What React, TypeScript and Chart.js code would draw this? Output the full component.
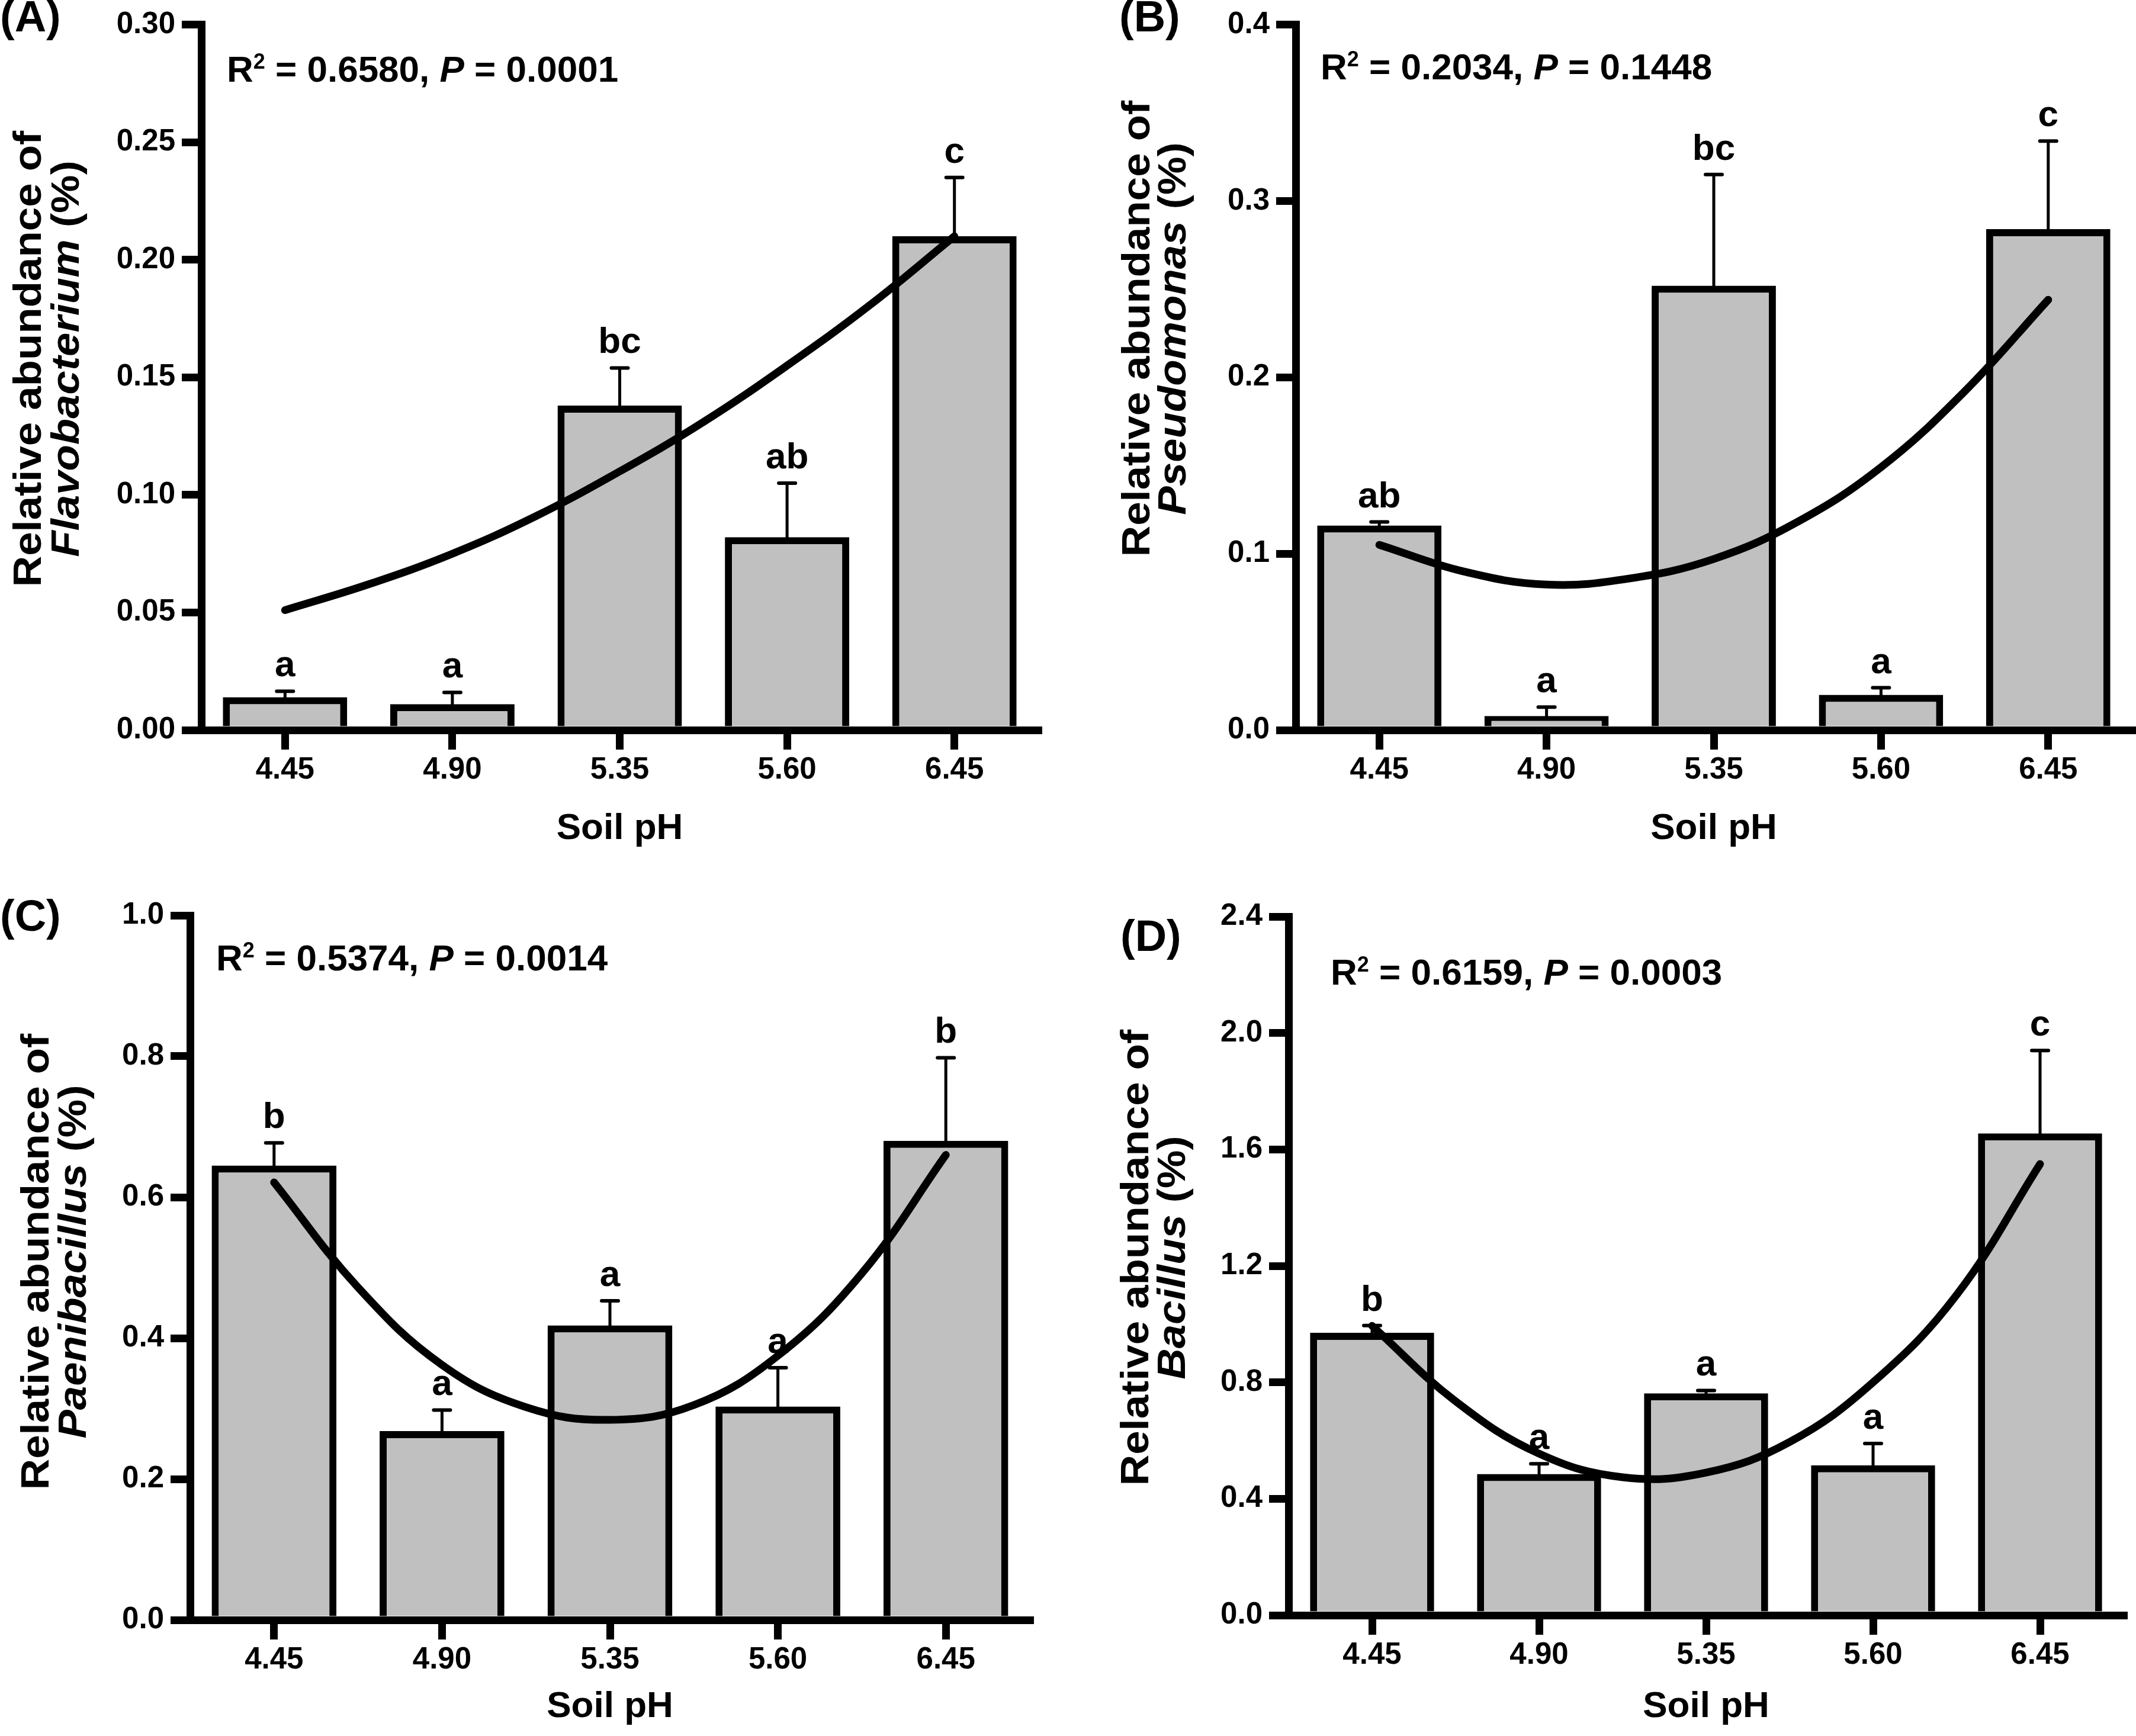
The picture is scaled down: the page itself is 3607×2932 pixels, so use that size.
import React, { useEffect, useRef } from 'react';
import { Chart, registerables } from 'chart.js';

Chart.register(...registerables);

// ---------- shared data ----------
const PH_LABELS = ['4.45', '4.90', '5.35', '5.60', '6.45'];
// positions (category index) where the fitted curve was read
const CURVE_POS = [0, 0.5, 1, 1.5, 2, 2.5, 3, 3.5, 4];

// (A) Flavobacterium
const A_MEANS = [0.014, 0.011, 0.138, 0.082, 0.21];
const A_SE = [0.0025, 0.005, 0.016, 0.023, 0.025];
const A_LETTERS = ['a', 'a', 'bc', 'ab', 'c'];
const A_CURVE = [0.051, 0.062, 0.075, 0.091, 0.11, 0.131, 0.155, 0.181, 0.21];
const A_YTICKS = [0, 0.05, 0.1, 0.15, 0.2, 0.25, 0.3];

// (B) Pseudomonas
const B_MEANS = [0.116, 0.008, 0.252, 0.02, 0.284];
const B_SE = [0.002, 0.005, 0.063, 0.004, 0.05];
const B_LETTERS = ['ab', 'a', 'bc', 'a', 'c'];
const B_CURVE = [0.105, 0.09, 0.0825, 0.086, 0.097, 0.118, 0.149, 0.192, 0.244];
const B_YTICKS = [0, 0.1, 0.2, 0.3, 0.4];

// (C) Paenibacillus
const C_MEANS = [0.645, 0.268, 0.418, 0.303, 0.68];
const C_SE = [0.032, 0.03, 0.035, 0.055, 0.118];
const C_LETTERS = ['b', 'a', 'a', 'a', 'b'];
const C_CURVE = [0.621, 0.472, 0.362, 0.302, 0.284, 0.305, 0.375, 0.492, 0.66];
const C_YTICKS = [0, 0.2, 0.4, 0.6, 0.8, 1.0];

// (D) Bacillus
const D_MEANS = [0.97, 0.485, 0.762, 0.515, 1.655];
const D_SE = [0.025, 0.035, 0.01, 0.075, 0.285];
const D_LETTERS = ['b', 'a', 'a', 'a', 'c'];
const D_CURVE = [0.994, 0.735, 0.555, 0.474, 0.49, 0.595, 0.8, 1.1, 1.55];
const D_YTICKS = [0, 0.4, 0.8, 1.2, 1.6, 2.0, 2.4];

// ---------- styles ----------
const FONT = "'Liberation Sans', Arial, Helvetica, sans-serif";
const TICK_SIZE = 51;
const TEXT_SIZE = 62;
const YTITLE_SIZE = 66;
const YTITLE_STRETCH = 1.1;
const XTITLE_SIZE = 62;
const LETTER_SIZE = 62;
const PANEL_LABEL_SIZE = 74;
const AXIS_W = 13;
const BAR_BORDER = 12;
const CURVE_W = 13;
const ERR_W = 5;
const CAP_HALF = 14;
const LETTER_GAP = 25;
const BAR_FILL = '#c0c0c0';

interface Layout {
  left: number; top: number; w: number; h: number;
  areaL: number; areaR: number; areaT: number; areaB: number;
  t1x: number; t2x: number; tcy: number;
  statX: number; statY: number;
  labX: number; labY: number;
  xTitleY: number;
}

interface PanelCfg {
  label: string; genus: string;
  means: number[]; se: number[]; letters: string[]; curve: number[];
  yTicks: number[]; dec: number; r2: string; p: string;
  layout: Layout;
}

const PANELS: PanelCfg[] = [
  {
    label: '(A)', genus: 'Flavobacterium', means: A_MEANS, se: A_SE, letters: A_LETTERS, curve: A_CURVE,
    yTicks: A_YTICKS, dec: 2, r2: '0.6580', p: '0.0001',
    layout: { left: 0, top: 0, w: 1800, h: 1466, areaL: 340, areaR: 1753, areaT: 41, areaB: 1233,
      t1x: 51, t2x: 115, tcy: 606, statX: 383, statY: 138, labX: 0, labY: 53, xTitleY: 1417 },
  },
  {
    label: '(B)', genus: 'Pseudomonas', means: B_MEANS, se: B_SE, letters: B_LETTERS, curve: B_CURVE,
    yTicks: B_YTICKS, dec: 1, r2: '0.2034', p: '0.1448',
    layout: { left: 1800, top: 0, w: 1807, h: 1466, areaL: 388, areaR: 1800, areaT: 41, areaB: 1233,
      t1x: 123, t2x: 184, tcy: 555, statX: 430, statY: 134, labX: 90, labY: 53, xTitleY: 1417 },
  },
  {
    label: '(C)', genus: 'Paenibacillus', means: C_MEANS, se: C_SE, letters: C_LETTERS, curve: C_CURVE,
    yTicks: C_YTICKS, dec: 1, r2: '0.5374', p: '0.0014',
    layout: { left: 0, top: 1466, w: 1800, h: 1466, areaL: 321, areaR: 1739, areaT: 80, areaB: 1270,
      t1x: 64, t2x: 127, tcy: 665, statX: 365, statY: 173, labX: 0, labY: 106, xTitleY: 1434 },
  },
  {
    label: '(D)', genus: 'Bacillus', means: D_MEANS, se: D_SE, letters: D_LETTERS, curve: D_CURVE,
    yTicks: D_YTICKS, dec: 1, r2: '0.6159', p: '0.0003',
    layout: { left: 1800, top: 1466, w: 1807, h: 1466, areaL: 376, areaR: 1786, areaT: 82, areaB: 1262,
      t1x: 121, t2x: 183, tcy: 658, statX: 447, statY: 197, labX: 92, labY: 140, xTitleY: 1434 },
  },
];

function drawStat(ctx: CanvasRenderingContext2D, x: number, y: number, r2: string, p: string) {
  ctx.save();
  ctx.translate(x, y);
  ctx.fillStyle = '#000';
  ctx.textAlign = 'left';
  ctx.textBaseline = 'alphabetic';
  let cx = 0;
  const seg = (t: string, font: string, dy = 0) => {
    ctx.font = font;
    ctx.fillText(t, cx, dy);
    cx += ctx.measureText(t).width;
  };
  seg('R', `bold ${TEXT_SIZE}px ${FONT}`);
  seg('2', `bold ${Math.round(TEXT_SIZE * 0.58)}px ${FONT}`, -TEXT_SIZE * 0.36);
  seg(` = ${r2}, `, `bold ${TEXT_SIZE}px ${FONT}`);
  seg('P', `italic bold ${TEXT_SIZE}px ${FONT}`);
  seg(` = ${p}`, `bold ${TEXT_SIZE}px ${FONT}`);
  ctx.restore();
}

function drawYTitle(ctx: CanvasRenderingContext2D, L: Layout, genus: string) {
  ctx.save();
  ctx.fillStyle = '#000';
  ctx.textBaseline = 'middle';
  // line 1
  ctx.save();
  ctx.translate(L.t1x, L.tcy);
  ctx.rotate(-Math.PI / 2);
  ctx.scale(YTITLE_STRETCH, 1);
  ctx.textAlign = 'center';
  ctx.font = `bold ${YTITLE_SIZE}px ${FONT}`;
  ctx.fillText('Relative abundance of', 0, 0);
  ctx.restore();
  // line 2
  ctx.save();
  ctx.translate(L.t2x, L.tcy);
  ctx.rotate(-Math.PI / 2);
  ctx.scale(YTITLE_STRETCH, 1);
  ctx.textAlign = 'left';
  const fItal = `italic bold ${YTITLE_SIZE}px ${FONT}`;
  const fReg = `bold ${YTITLE_SIZE}px ${FONT}`;
  ctx.font = fItal;
  const w1 = ctx.measureText(genus).width;
  ctx.font = fReg;
  const w2 = ctx.measureText(' (%)').width;
  let sx = -(w1 + w2) / 2;
  ctx.font = fItal;
  ctx.fillText(genus, sx, 0);
  sx += w1;
  ctx.font = fReg;
  ctx.fillText(' (%)', sx, 0);
  ctx.restore();
  ctx.restore();
}

function Panel({ cfg }: { cfg: PanelCfg }) {
  const ref = useRef<HTMLCanvasElement>(null);
  const L = cfg.layout;

  useEffect(() => {
    const canvas = ref.current;
    if (!canvas) return;
    const yMax = cfg.yTicks[cfg.yTicks.length - 1];

    const overlay = {
      id: 'overlay' + cfg.label,
      beforeDatasetsDraw(chart: any) {
        const ctx: CanvasRenderingContext2D = chart.ctx;
        const xs = chart.scales.x;
        const ys = chart.scales.y;
        ctx.save();
        ctx.strokeStyle = '#000';
        ctx.lineCap = 'round';
        cfg.means.forEach((m, i) => {
          const x = xs.getPixelForValue(i);
          const y0 = ys.getPixelForValue(m);
          const y1 = ys.getPixelForValue(m + cfg.se[i]);
          ctx.lineWidth = ERR_W;
          ctx.beginPath();
          ctx.moveTo(x, y0);
          ctx.lineTo(x, y1);
          ctx.stroke();
          ctx.lineWidth = ERR_W + 1;
          ctx.beginPath();
          ctx.moveTo(x - CAP_HALF, y1);
          ctx.lineTo(x + CAP_HALF, y1);
          ctx.stroke();
        });
        ctx.restore();
      },
      afterDraw(chart: any) {
        const ctx: CanvasRenderingContext2D = chart.ctx;
        const xs = chart.scales.x;
        const ys = chart.scales.y;
        const area = chart.chartArea;
        ctx.save();
        ctx.fillStyle = '#000';
        // significance letters
        ctx.font = `bold ${LETTER_SIZE}px ${FONT}`;
        ctx.textAlign = 'center';
        ctx.textBaseline = 'alphabetic';
        cfg.means.forEach((m, i) => {
          const x = xs.getPixelForValue(i);
          const y1 = ys.getPixelForValue(m + cfg.se[i]);
          ctx.fillText(cfg.letters[i], x, y1 - LETTER_GAP);
        });
        // statistics
        drawStat(ctx, L.statX, L.statY, cfg.r2, cfg.p);
        // x title
        ctx.font = `bold ${XTITLE_SIZE}px ${FONT}`;
        ctx.textAlign = 'center';
        ctx.textBaseline = 'alphabetic';
        ctx.fillText('Soil pH', (area.left + area.right) / 2, L.xTitleY);
        // panel label
        ctx.font = `bold ${PANEL_LABEL_SIZE}px ${FONT}`;
        ctx.textAlign = 'left';
        ctx.fillText(cfg.label, L.labX, L.labY);
        // y title
        drawYTitle(ctx, L, cfg.genus);
        ctx.restore();
      },
    };

    const chart = new Chart(canvas, {
      type: 'bar',
      data: {
        labels: PH_LABELS,
        datasets: [
          {
            type: 'line',
            // pre-parsed {x: category index (fractional), y: value}
            parsing: false,
            data: CURVE_POS.map((x, i) => ({ x, y: cfg.curve[i] })),
            xAxisID: 'x',
            yAxisID: 'y',
            borderColor: '#000',
            borderWidth: CURVE_W,
            pointRadius: 0,
            tension: 0.4,
            fill: false,
            order: 0,
            borderCapStyle: 'round',
            borderJoinStyle: 'round',
          } as any,
          {
            type: 'bar',
            data: cfg.means,
            xAxisID: 'x',
            yAxisID: 'y',
            backgroundColor: BAR_FILL,
            borderColor: '#000',
            borderWidth: BAR_BORDER,
            barPercentage: 0.743,
            categoryPercentage: 1,
            grouped: false,
            order: 1,
          } as any,
        ],
      },
      options: {
        responsive: false,
        animation: false,
        devicePixelRatio: 1,
        layout: { padding: { left: 0, right: L.w - L.areaR, top: L.areaT, bottom: 0 } },
        plugins: { legend: { display: false }, tooltip: { enabled: false }, title: { display: false } },
        scales: {
          x: {
            type: 'category',
            offset: true,
            grid: { offset: false, drawOnChartArea: false, drawTicks: true, tickLength: 33, lineWidth: AXIS_W, color: '#000' },
            border: { display: true, width: AXIS_W, color: '#000', z: 1 },
            ticks: { color: '#000', font: { family: FONT, size: TICK_SIZE, weight: 'bold' }, padding: 4, maxRotation: 0, autoSkip: false },
            afterFit: (s: any) => { s.height = L.h - L.areaB; },
          },
          y: {
            type: 'linear',
            min: 0,
            max: yMax,
            grid: { drawOnChartArea: false, drawTicks: true, tickLength: 33, lineWidth: AXIS_W, color: '#000' },
            border: { display: true, width: AXIS_W, color: '#000', z: 1 },
            ticks: {
              color: '#000',
              font: { family: FONT, size: TICK_SIZE, weight: 'bold' },
              padding: 11,
              callback: (v: any) => Number(v).toFixed(cfg.dec),
            },
            afterBuildTicks: (s: any) => { s.ticks = cfg.yTicks.map((v) => ({ value: v })); },
            afterFit: (s: any) => { s.width = L.areaL; },
          },
        } as any,
      },
      plugins: [overlay],
    } as any);

    return () => chart.destroy();
  }, []);

  return (
    <canvas
      ref={ref}
      width={L.w}
      height={L.h}
      style={{ position: 'absolute', left: L.left, top: L.top, width: L.w, height: L.h }}
    />
  );
}

export default function App() {
  return (
    <div style={{ position: 'absolute', left: 0, top: 0, width: 3607, height: 2932, background: '#fff', overflow: 'hidden' }}>
      {PANELS.map((p) => (
        <Panel key={p.label} cfg={p} />
      ))}
    </div>
  );
}
